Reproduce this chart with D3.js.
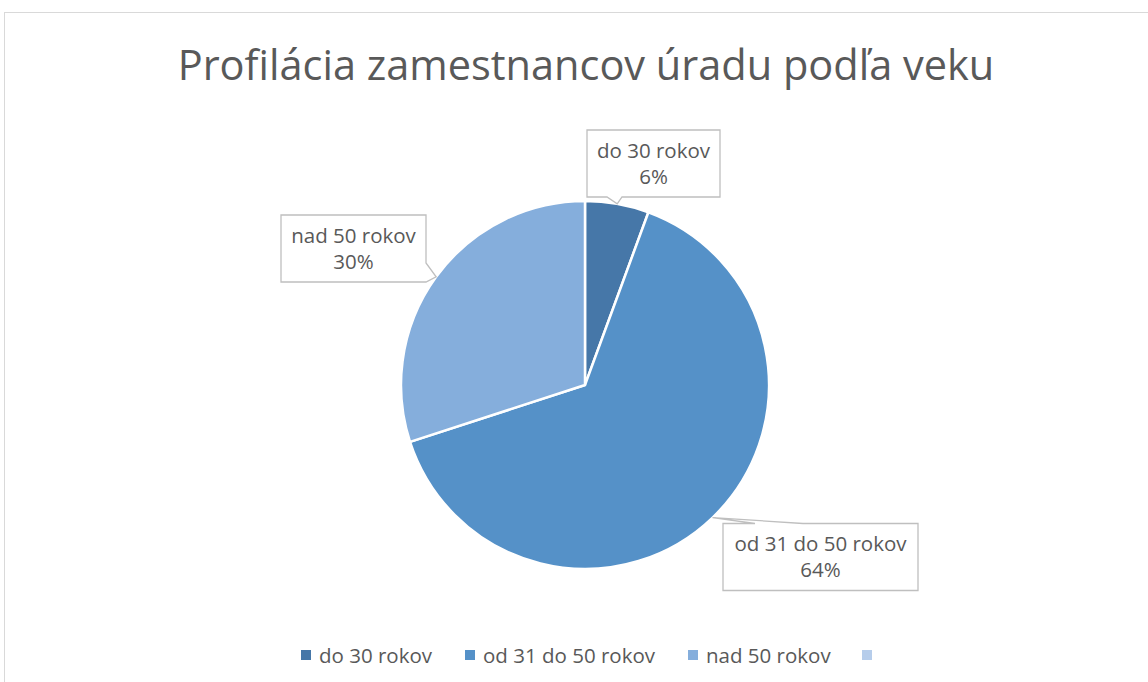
<!DOCTYPE html>
<html lang="sk">
<head>
<meta charset="utf-8">
<title>Profilácia zamestnancov</title>
<script src="https://cdn.jsdelivr.net/npm/d3@7"></script>
<style>
  body { margin: 0; background: #fff; }
  text { font-family: "Open Sans", "Noto Sans", sans-serif; fill: #595959; }
</style>
</head>
<body>
<script>

// data
var categories = ["do 30 rokov", "od 31 do 50 rokov", "nad 50 rokov", ""];
var values = [5.6, 64.4, 30.0, 0];
var colors = ["#4677A8", "#5591C8", "#85AEDC", "#B6CDEB"];
var title = "Profilácia zamestnancov úradu podľa veku";

var w = 1148, h = 682;
var cx = 585, cy = 385, r = 184;

var svg = d3.select("body").append("svg").attr("width", w).attr("height", h);

// chart frame
svg.append("rect")
  .attr("x", 4.5).attr("y", 12.5)
  .attr("width", w + 10).attr("height", h + 10)
  .attr("fill", "none").attr("stroke", "#D9D9D9");

svg.append("text")
  .attr("x", 586).attr("y", 80)
  .attr("text-anchor", "middle")
  .attr("font-size", "41.5px")
  .text(title);

var data = categories.map(function(c, i){ return {cat: c, v: values[i], c: colors[i], i: i}; });
var total = d3.sum(values);

var pie = d3.pie().sort(null).value(function(d){ return d.v; });
var arc = d3.arc().innerRadius(0).outerRadius(r);
var arcs = pie(data);

var g = svg.append("g").attr("transform", "translate(" + cx + "," + cy + ")");
g.append("g").selectAll("path").data(arcs.filter(function(d){ return d.data.v > 0; }))
  .enter().append("path")
  .attr("d", arc)
  .attr("fill", function(d){ return d.data.c; })
  .attr("stroke", "#fff")
  .attr("stroke-width", 2.5)
  .attr("stroke-linejoin", "round");

// callout boxes (center offsets from pie center), pointer tips come from the arcs
var boxPos = [[68.5, -221.5], [235.5, 172], [-231.5, -136.5]];
var boxW = [133, 195, 145], boxH = 67;
var fmt = d3.format(".0%");

arcs.forEach(function(d, i){
  if (d.data.v <= 0) return;
  var mid = (d.startAngle + d.endAngle) / 2;
  var tx = Math.sin(mid) * r, ty = -Math.cos(mid) * r;
  var bx = boxPos[i][0] - boxW[i] / 2, by = boxPos[i][1] - boxH / 2;
  var bw = boxW[i];
  var pts;
  // outline with a wedge on the side facing the tip
  if (ty < by) { // tip above box
    pts = [[bx, by], [bx + 32, by], [tx, ty], [bx + 80, by], [bx + bw, by], [bx + bw, by + boxH], [bx, by + boxH]];
  } else if (ty > by + boxH) { // tip below
    pts = [[bx, by], [bx + bw, by], [bx + bw, by + boxH], [bx + 35, by + boxH], [tx, ty], [bx + 20, by + boxH], [bx, by + boxH]];
  } else { // tip right
    pts = [[bx, by], [bx + bw, by], [bx + bw, by + boxH - 19], [tx, ty], [bx + bw, by + boxH], [bx, by + boxH]];
  }
  g.append("path")
    .attr("d", d3.line()(pts) + "Z")
    .attr("fill", "#fff")
    .attr("stroke", "#BFBFBF")
    .attr("stroke-width", 1.3);
  var t = g.append("text")
    .attr("text-anchor", "middle")
    .attr("font-size", "20.5px");
  t.append("tspan").attr("x", boxPos[i][0]).attr("y", boxPos[i][1] - 6).text(d.data.cat);
  t.append("tspan").attr("x", boxPos[i][0]).attr("y", boxPos[i][1] + 20).text(fmt(d.data.v / total));
});

// legend
var legX = [301, 465, 688, 862];
var lg = svg.append("g").selectAll("g").data(data).enter().append("g")
  .attr("transform", function(d, i){ return "translate(" + legX[i] + ",650)"; });
lg.append("rect").attr("width", 10).attr("height", 10).attr("fill", function(d){ return d.c; });
lg.append("text").attr("x", 18).attr("y", 13).attr("font-size", "20.5px").text(function(d){ return d.cat; });

</script>
</body>
</html>
